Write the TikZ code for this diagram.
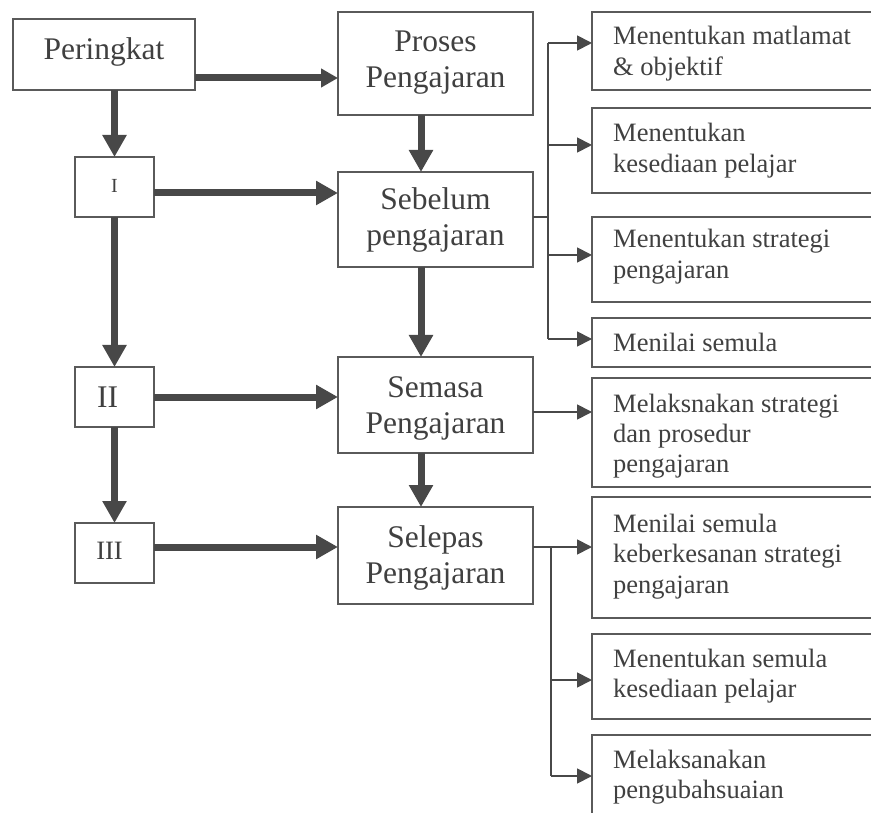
\documentclass[tikz,border=0pt]{standalone}
\usepackage{fontspec}
\setmainfont{Liberation Serif}
\usetikzlibrary{arrows.meta,calc}
\definecolor{ink}{HTML}{404040}
\definecolor{edge}{HTML}{5A5A5A}
\definecolor{arr}{HTML}{484848}
\begin{document}
\begin{tikzpicture}[x=1pt,y=-1pt,
  box/.style={draw=edge,line width=1.2pt,inner sep=0pt,outer sep=0pt,anchor=north west},
  big/.style={font=\fontsize{31.5}{36}\selectfont,text=ink,inner sep=0pt,anchor=base},
  small/.style={font=\fontsize{26.5}{30.5}\selectfont,text=ink,inner sep=0pt,anchor=base west},
  fat/.style={draw=arr,line width=7pt,-{Triangle[length=22pt,width=23pt]}},
  fatsmall/.style={draw=arr,line width=7pt,-{Triangle[length=17pt,width=18pt]}},
  thin/.style={draw=arr,line width=1.8pt},
  thinarrow/.style={draw=arr,line width=1.8pt,-{Triangle[length=15pt,width=15pt]}}
]
\useasboundingbox (0,0) rectangle (871,813);
\clip (0,0) rectangle (871,813);

% left / middle boxes
\node[box,minimum width=182pt,minimum height=71pt] (per) at (13,19) {};
\node[box,minimum width=195pt,minimum height=103pt] (pro) at (338,12) {};
\node[box,minimum width=195pt,minimum height=95pt] (seb) at (338,172) {};
\node[box,minimum width=195pt,minimum height=96pt] (sem) at (338,357) {};
\node[box,minimum width=195pt,minimum height=97pt] (sel) at (338,507) {};
\node[box,minimum width=79pt,minimum height=60pt] (s1) at (75,157) {};
\node[box,minimum width=79pt,minimum height=60pt] (s2) at (75,367) {};
\node[box,minimum width=79pt,minimum height=60pt] (s3) at (75,523) {};

\node[big] (pert) at ($(per.north)+(0,41)$) {Peringkat};
\node[big] (prot) at ($(pro.north)+(0,40)$) {\parbox[t]{190pt}{\centering Proses\\Pengajaran}};
\node[big] (sebt) at ($(seb.north)+(0,38)$) {\parbox[t]{190pt}{\centering Sebelum\\pengajaran}};
\node[big] (semt) at ($(sem.north)+(0,40)$) {\parbox[t]{190pt}{\centering Semasa\\Pengajaran}};
\node[big] (selt) at ($(sel.north)+(0,40)$) {\parbox[t]{190pt}{\centering Selepas\\Pengajaran}};
\node[big,font=\fontsize{20}{24}\selectfont] (s1t) at ($(s1.north)+(0,36)$) {I};
\node[big] (s2t) at ($(s2.north)+(-7,40)$) {II};
\node[big,font=\fontsize{26.5}{30}\selectfont] (s3t) at ($(s3.north)+(-5,36)$) {III};

% right boxes
\node[box,minimum width=300pt,minimum height=78pt] (r1) at (592,12) {};
\node[box,minimum width=300pt,minimum height=85pt] (r2) at (592,108) {};
\node[box,minimum width=300pt,minimum height=85pt] (r3) at (592,217) {};
\node[box,minimum width=300pt,minimum height=49pt] (r4) at (592,318) {};
\node[box,minimum width=300pt,minimum height=109pt] (r5) at (592,378) {};
\node[box,minimum width=300pt,minimum height=121pt] (r6) at (592,497) {};
\node[box,minimum width=300pt,minimum height=85pt] (r7) at (592,634) {};
\node[box,minimum width=300pt,minimum height=110pt] (r8) at (592,735) {};

\node[small] (r1t) at ($(r1.north west)+(21,33)$) {\parbox[t]{260pt}{\raggedright Menentukan matlamat\\\& objektif}};
\node[small] (r2t) at ($(r2.north west)+(21,34)$) {\parbox[t]{260pt}{\raggedright Menentukan\\kesediaan pelajar}};
\node[small] (r3t) at ($(r3.north west)+(21,31)$) {\parbox[t]{260pt}{\raggedright Menentukan strategi\\pengajaran}};
\node[small] (r4t) at ($(r4.north west)+(21,34)$) {Menilai semula};
\node[small] (r5t) at ($(r5.north west)+(21,34)$) {\parbox[t]{260pt}{\raggedright Melaksnakan strategi\\dan prosedur\\pengajaran}};
\node[small] (r6t) at ($(r6.north west)+(21,35)$) {\parbox[t]{260pt}{\raggedright Menilai semula\\keberkesanan strategi\\pengajaran}};
\node[small] (r7t) at ($(r7.north west)+(21,33)$) {\parbox[t]{260pt}{\raggedright Menentukan semula\\kesediaan pelajar}};
\node[small] (r8t) at ($(r8.north west)+(21,33)$) {\parbox[t]{260pt}{\raggedright Melaksanakan\\pengubahsuaian}};

% helper coordinates
\coordinate (ya) at (0,78);
\coordinate (yb) at (0,193);
\coordinate (yc) at (0,547);
\coordinate (xm) at (421,0);
\coordinate (bx1) at (548,0);
\coordinate (bx2) at (551,0);
\coordinate (y1) at (0,43);
\coordinate (y2) at (0,145);
\coordinate (y3) at (0,255);
\coordinate (y4) at (0,339);
\coordinate (yj) at (0,217);
\coordinate (y5) at (0,412);
\coordinate (y7) at (0,680);
\coordinate (y8) at (0,776);

% thick arrows
\draw[fatsmall] (per.east |- ya) -- (pro.west |- ya);
\draw[fat] (s1.north |- per.south) -- (s1.north);
\draw[fat] (pro.south -| xm) -- (seb.north -| xm);
\draw[fat] (s1.east |- yb) -- (seb.west |- yb);
\draw[fat] (s1.south) -- (s2.north);
\draw[fat] (seb.south -| xm) -- (sem.north -| xm);
\draw[fat] (s2.east) -- (sem.west |- s2.east);
\draw[fat] (s2.south) -- (s3.north);
\draw[fat] (sem.south -| xm) -- (sel.north -| xm);
\draw[fat] (s3.east |- yc) -- (sel.west |- yc);

% thin branch connectors
\draw[thin] (seb.east |- yj) -- (bx1 |- yj);
\draw[thin] (bx1 |- y1) -- (bx1 |- y4);
\draw[thinarrow] (bx1 |- y1) -- (r1.west |- y1);
\draw[thinarrow] (bx1 |- y2) -- (r2.west |- y2);
\draw[thinarrow] (bx1 |- y3) -- (r3.west |- y3);
\draw[thinarrow] (bx1 |- y4) -- (r4.west |- y4);
\draw[thinarrow] (sem.east |- y5) -- (r5.west |- y5);
\draw[thinarrow] (sel.east |- yc) -- (r6.west |- yc);
\draw[thin] (bx2 |- yc) -- (bx2 |- y8);
\draw[thinarrow] (bx2 |- y7) -- (r7.west |- y7);
\draw[thinarrow] (bx2 |- y8) -- (r8.west |- y8);
\end{tikzpicture}
\end{document}
